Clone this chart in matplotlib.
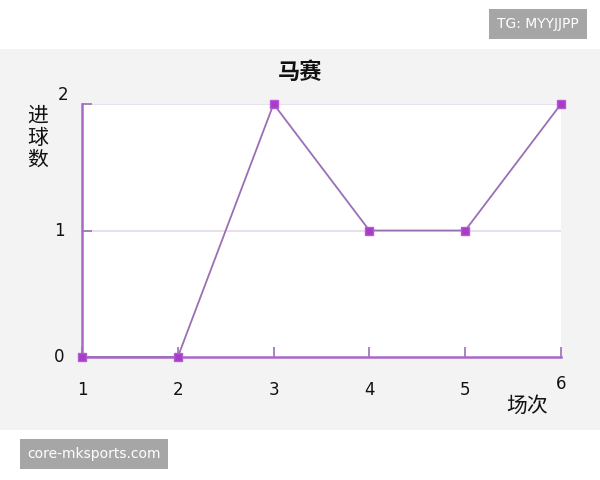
import matplotlib.pyplot as plt
from matplotlib.patches import Rectangle

plt.rcParams['font.family'] = ['Noto Sans CJK SC', 'DejaVu Sans']

matches = [1, 2, 3, 4, 5, 6]
goals = [0, 0, 2, 1, 1, 2]
y_ticks = [0, 1, 2]

fig = plt.figure(figsize=(6, 4.8), dpi=100)
fig.patch.set_facecolor('white')

# gray panel behind the chart
fig.patches.append(Rectangle((0, 1 - 430 / 480), 1, (430 - 49) / 480,
                             transform=fig.transFigure, facecolor='#f3f3f3',
                             edgecolor='none', zorder=-5))

ax = fig.add_axes([82 / 600, 1 - 357 / 480, (561 - 82) / 600, (357 - 104) / 480])
ax.set_zorder(2)
ax.set_facecolor('white')

for v in y_ticks[1:]:
    ax.axhline(v, color='#e4dcea', linewidth=1.2, zorder=1)

ax.plot(matches, goals, color='#9a6fb4', linewidth=1.3, zorder=3,
        marker='s', markersize=6, markerfacecolor='#a83cc8',
        markeredgecolor='#b45ad2', clip_on=False)

ax.set_xlim(1, 6)
ax.set_ylim(0, 2)
for s in ['top', 'right']:
    ax.spines[s].set_visible(False)
for s in ['left', 'bottom']:
    ax.spines[s].set_color('#a868c8')
    ax.spines[s].set_linewidth(1.8)

ax.set_xticks(matches)
ax.set_yticks(y_ticks)
ax.tick_params(axis='x', direction='in', length=7, color='#9a6fb4', width=1.2,
               labelbottom=False)
ax.tick_params(axis='y', direction='in', length=7, color='#9a6fb4', width=1.2,
               labelleft=False)

# tick labels drawn as text to mimic the original positions
for m in matches:
    yoff = -0.26 if m < 6 else -0.21
    ax.text(m, yoff, str(m), ha='center', va='center', fontsize=12,
            family='DejaVu Sans', clip_on=False, color='#111111')
for v in y_ticks:
    dx = -0.24 if v < 2 else -0.2
    dy = 0 if v < 2 else 0.07
    ax.text(1 + dx, v + dy, str(v), ha='center', va='center', fontsize=12,
            family='DejaVu Sans', clip_on=False, color='#111111')

fig.text(300 / 600, 1 - 72 / 480, '马赛', ha='center', va='center',
         fontsize=16, fontweight='bold', color='#111111')
fig.text(38 / 600, 1 - 138 / 480, '进\n球\n数', ha='center', va='center',
         fontsize=15, linespacing=1.0, color='#111111')
fig.text(527 / 600, 1 - 406 / 480, '场次', ha='center', va='center',
         fontsize=15, color='#111111')

# watermarks
fig.text(538 / 600, 1 - 24 / 480, 'TG: MYYJJPP', ha='center', va='center',
         fontsize=10, color='white', family='DejaVu Sans',
         bbox=dict(boxstyle='square,pad=0.55', facecolor='#a6a6a6', edgecolor='none'))
fig.text(94 / 600, 1 - 454 / 480, 'core-mksports.com', ha='center', va='center',
         fontsize=10, color='white', family='DejaVu Sans',
         bbox=dict(boxstyle='square,pad=0.55', facecolor='#a6a6a6', edgecolor='none'))

fig.savefig('out.png', dpi=100)
